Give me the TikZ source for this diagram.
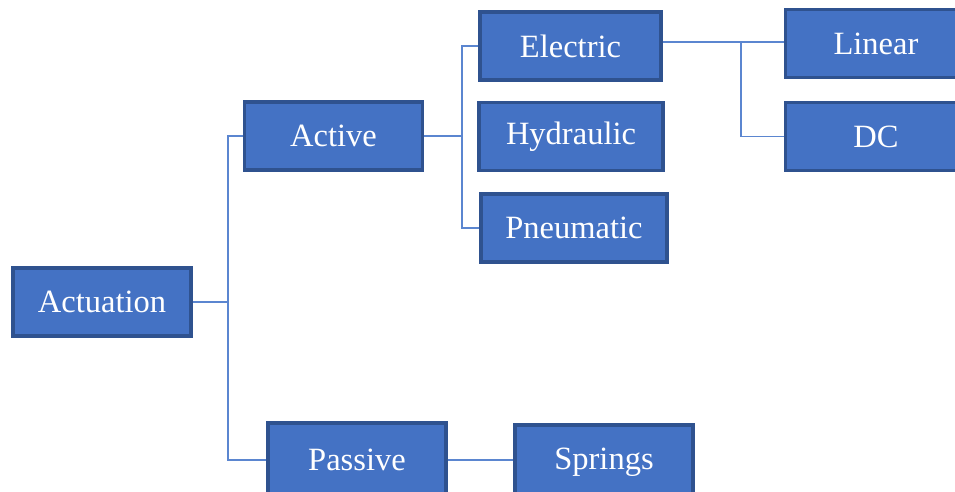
\documentclass[tikz,border=0pt]{standalone}
\usepackage{fontspec}
\setmainfont{Liberation Serif}
\usepackage{tikz}
\usetikzlibrary{positioning,calc}
\definecolor{boxblue}{HTML}{4472C4}
\definecolor{edgeblue}{HTML}{2F528F}
\definecolor{linkblue}{HTML}{5B86D0}

\begin{document}
\begin{tikzpicture}[
  font=\fontsize{18.5}{22}\selectfont,
  box/.style={rectangle,draw=edgeblue,line width=2.2pt,fill=boxblue,text=white,minimum height=1.36cm,minimum width=3.56cm,align=center,inner sep=2pt},
  link/.style={draw=linkblue,line width=0.8pt},
]
\useasboundingbox (0,0) rectangle (19.1,9.84);
\clip (0,0) rectangle (19.1,9.84);
% Root
\node[box] (act)   at (2.04, 3.80) {Actuation};
% First level
\node[box] (active)  at (6.67, 7.12) {Active};
\node[box,minimum height=1.48cm] (passive) at (7.14, 0.64) {Passive};
% Second level
\node[box,minimum width=3.62cm] (elec)  at (11.41, 8.92) {Electric};
\node[box,minimum width=3.68cm] (hyd)   at (11.42, 7.11) {Hydraulic};
\node[box,minimum width=3.72cm] (pneu)  at (11.48, 5.28) {Pneumatic};
\node[box,minimum height=1.48cm] (spring) at (12.08, 0.60) {Springs};
% Third level
\node[box,minimum width=3.62cm] (lin) at (17.52, 8.97) {Linear};
\node[box,minimum width=3.62cm] (dc)  at (17.52, 7.11) {DC};

% Fork points
\coordinate (forkA) at (4.56, 3.80);
\coordinate (forkB) at (9.24, 7.12);
\coordinate (forkC) at (14.82, 9.00);

% Connectors
\draw[link] (act.east) -- (forkA);
\draw[link] (forkA) |- (active.west);
\draw[link] (forkA) |- (passive.west);
\draw[link] (active.east) -- (forkB);
\draw[link] (forkB) |- (elec.west);
\draw[link] (forkB) |- (pneu.west);
\draw[link] (elec.east |- forkC) -- (lin.west |- forkC);
\draw[link] (forkC) |- (dc.west);
\draw[link] (passive.east) -- (spring.west |- passive.east);
\end{tikzpicture}
\end{document}
